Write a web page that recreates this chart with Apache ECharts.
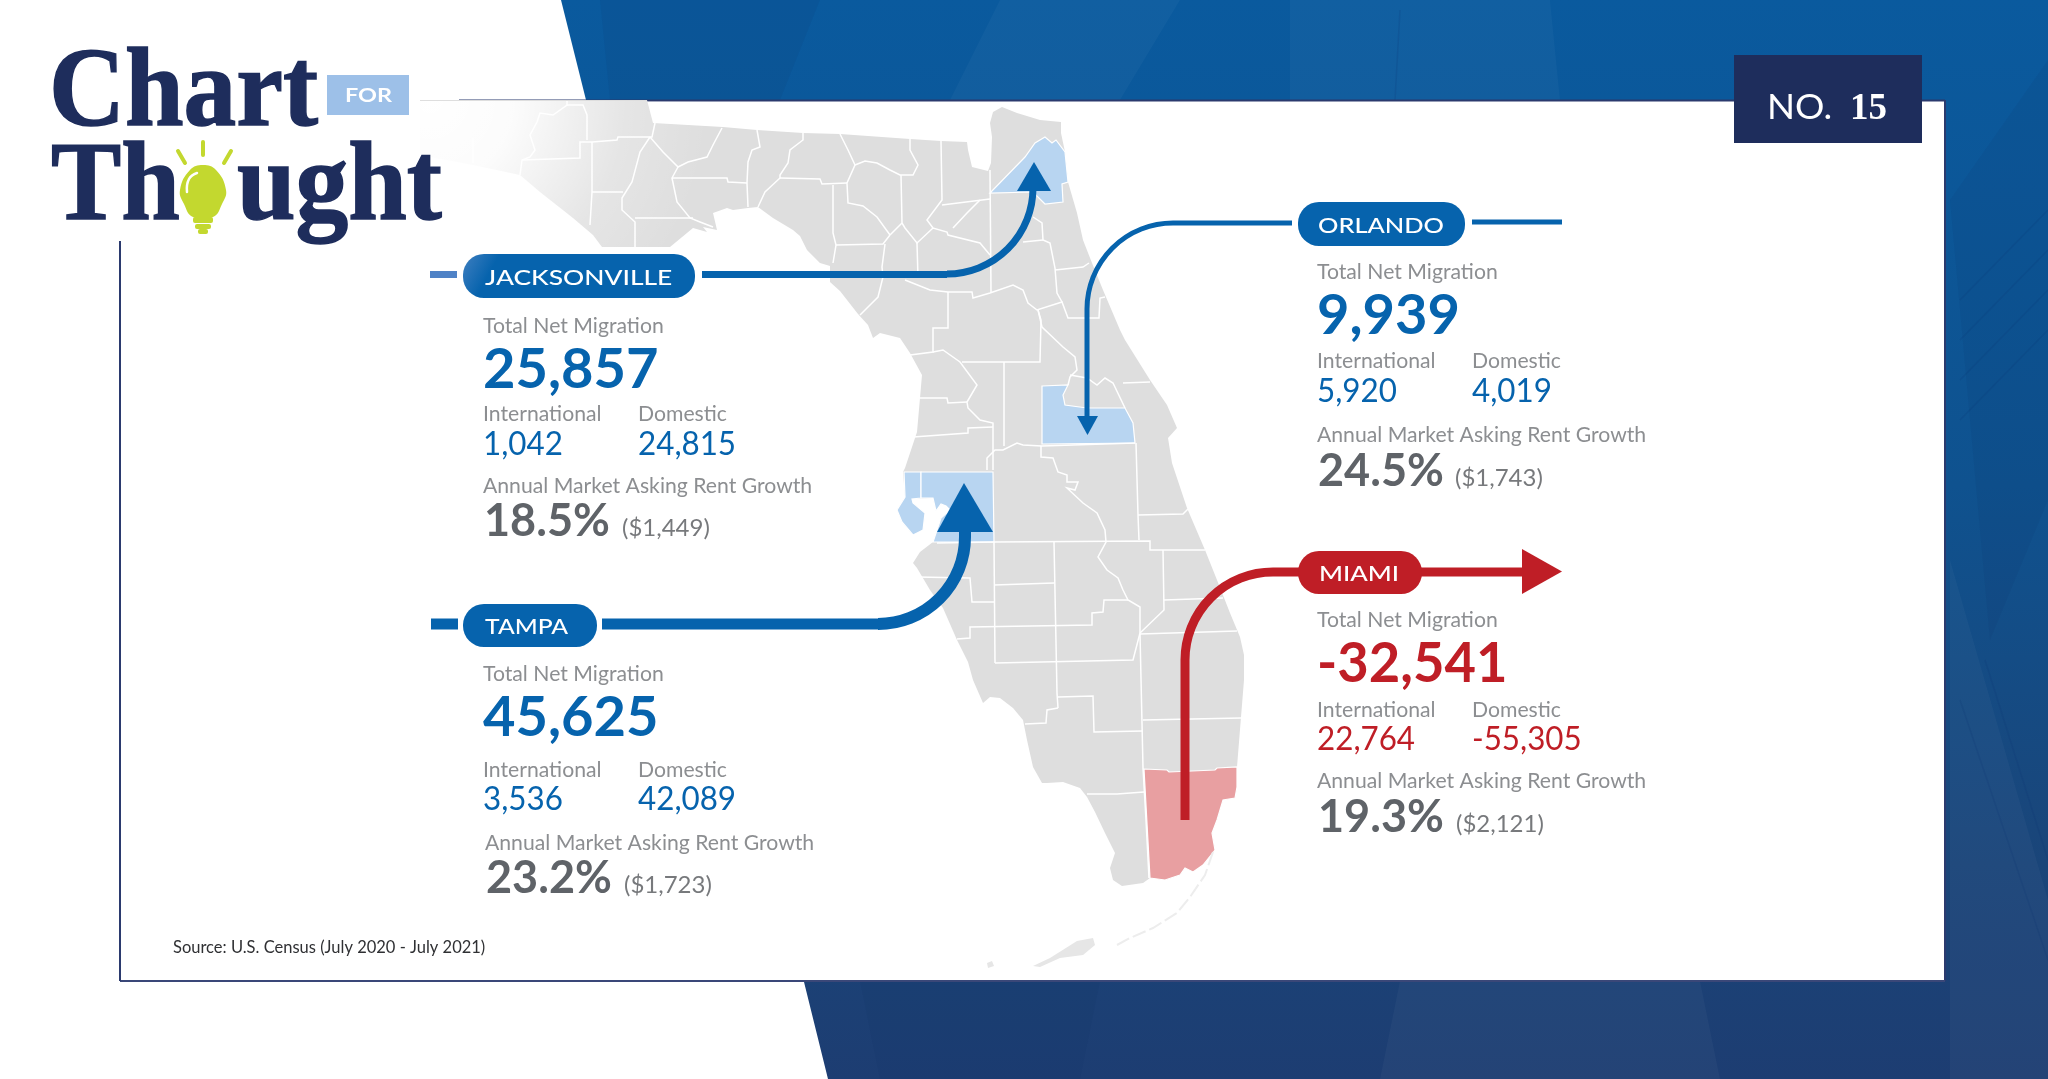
<!DOCTYPE html>
<html><head><meta charset="utf-8"><title>Chart for Thought No. 15</title>
<style>html,body{margin:0;padding:0;background:#fff}#c{width:2048px;height:1079px}</style>
<script src="https://cdn.jsdelivr.net/npm/echarts@6/dist/echarts.min.js"></script>
</head><body><div id="c"></div>
<script>
// ---- data ----
const CITIES = ['JACKSONVILLE', 'ORLANDO', 'TAMPA', 'MIAMI'];
const TOTAL_NET = [25857, 9939, 45625, -32541];
const INTERNATIONAL = [1042, 5920, 3536, 22764];
const DOMESTIC = [24815, 4019, 42089, -55305];
const RENT_GROWTH = [18.5, 24.5, 23.2, 19.3];
const ASKING_RENT = [1449, 1743, 1723, 2121];
const SOURCE = 'Source: U.S. Census (July 2020 - July 2021)';
const ISSUE = 'NO.';
const ISSUE_NO = '15';

// ---- base map geometry, in map units ----
const STATE = [[420,100],[647,100],[653,123],[723,127],[757,130],[803,133],[840,134],[910,139],[941,141],[967,142],[968,150],[972,167],[988,171],[991,163],[992,137],[990,123],[993,112],[1002,107],[1017,113],[1040,120],[1061,122],[1061,133],[1065,152],[1068,182],[1077,213],[1083,240],[1092,263],[1103,290],[1120,330],[1125,340],[1150,380],[1167,405],[1177,428],[1168,438],[1172,463],[1187,508],[1205,550],[1217,580],[1230,613],[1240,637],[1244,655],[1244,680],[1241,717],[1237,767],[1237,787],[1235,798],[1223,800],[1217,820],[1212,833],[1215,850],[1203,865],[1193,872],[1185,868],[1180,875],[1165,880],[1150,878],[1143,883],[1122,886],[1113,880],[1110,868],[1115,853],[1105,833],[1095,812],[1087,797],[1080,788],[1063,782],[1047,783],[1042,783],[1033,767],[1027,740],[1023,720],[1013,708],[1000,698],[990,697],[983,703],[973,680],[968,662],[957,640],[943,608],[930,590],[917,568],[913,563],[920,552],[933,542],[941,518],[950,510],[946,506],[941,504],[936,511],[933,498],[912,499],[913,503],[925,513],[923,530],[913,535],[902,522],[897,510],[905,497],[903,472],[905,468],[912,447],[917,432],[920,398],[922,375],[910,353],[900,338],[880,333],[873,338],[868,325],[858,314],[840,291],[830,282],[830,266],[820,263],[807,250],[800,236],[793,230],[773,218],[758,207],[748,208],[733,210],[727,208],[713,213],[717,230],[703,227],[707,232],[693,228],[670,247],[602,247],[593,235],[573,218],[540,192],[520,175],[473,165],[420,155]];
const CHARLOTTE_HARBOR = [[982,645],[990,637],[995,640],[993,660],[995,672],[990,678],[984,668],[982,655]];
const KEY_WEST = [[1033,966],[1050,958],[1077,941],[1093,938],[1095,945],[1083,955],[1060,958],[1040,967]];
const DRY_KEY = [[987,963],[992,961],[994,966],[988,968]];
const DUVAL = [[990,193],[1025,157],[1035,143],[1045,137],[1052,143],[1056,140],[1065,152],[1068,182],[1068,183],[1062,184],[1063,202],[1045,204],[1033,192]];
const ORANGE = [[1042,386],[1068,385],[1063,395],[1065,405],[1087,408],[1125,408],[1133,423],[1135,443],[1042,444]];
const PINELLAS = [[904,472],[921,472],[921,498],[912,499],[913,503],[925,513],[923,530],[913,535],[902,522],[897,510],[905,497]];
const HILLSBOROUGH = [[921,472],[993,472],[994,542],[933,542],[941,518],[950,510],[946,506],[941,504],[936,511],[933,498],[921,498]];
const MIAMI_DADE = [[1144,769],[1167,770],[1169,772],[1215,770],[1217,768],[1237,767],[1237,787],[1235,798],[1223,800],[1217,820],[1212,833],[1215,850],[1203,865],[1193,872],[1185,868],[1180,875],[1165,880],[1150,878]];
const KEYS_ARC = [[1213,852],[1205,875],[1190,897],[1177,913],[1153,928],[1130,938],[1117,945]];
const COUNTY_LINES = [
[[473,138],[473,163]],
[[567,101],[567,105],[553,115],[540,113],[537,122],[530,135],[535,150],[530,157],[522,160],[520,175]],
[[522,160],[580,158],[580,142],[592,142],[617,140],[618,137],[652,137],[655,123]],
[[567,105],[583,105],[587,115],[587,140]],
[[592,142],[592,192],[590,225]],
[[592,192],[623,192]],
[[650,137],[640,152],[632,182],[622,198],[622,210],[635,222],[635,247]],
[[635,218],[693,218]],
[[650,137],[663,152],[673,162],[678,167],[672,178],[677,202],[690,218],[700,222],[713,227]],
[[722,128],[713,145],[707,157],[688,162],[678,167]],
[[672,178],[727,178],[728,182],[747,183]],
[[757,130],[760,147],[752,150],[748,162],[747,183],[748,207]],
[[803,133],[803,140],[790,150],[788,163],[780,175],[780,178],[765,192],[758,207]],
[[780,178],[820,179],[822,184],[847,183]],
[[833,185],[833,233],[836,245],[833,263]],
[[840,134],[848,150],[855,165],[847,183],[848,203],[863,206],[877,217],[890,235]],
[[855,165],[865,161],[877,163],[890,170],[900,175],[913,175],[918,165],[910,150],[910,139]],
[[901,175],[902,223],[890,235]],
[[836,245],[883,244],[890,235]],
[[885,244],[882,267],[883,277],[878,297],[860,315]],
[[902,223],[905,228],[917,243],[933,228],[947,232],[948,235],[980,243],[990,255]],
[[917,243],[918,278]],
[[905,280],[930,290],[948,292],[972,292],[973,298],[990,293],[1013,285],[1023,290],[1028,303],[1037,310],[1062,302],[1068,318],[1099,318],[1100,298],[1105,297]],
[[941,141],[942,200],[927,220],[933,228]],
[[942,205],[990,199]],
[[980,200],[967,213],[953,228]],
[[990,170],[991,293]],
[[1033,217],[1042,223],[1043,240],[1050,243],[1055,268],[1057,293],[1062,302]],
[[1023,242],[1043,240]],
[[1055,270],[1083,267],[1089,263]],
[[948,292],[948,328],[933,328],[933,352],[910,355]],
[[933,352],[943,350],[960,362],[977,385],[967,402],[968,408],[980,420],[993,423],[993,470]],
[[962,362],[1040,362],[1041,320],[1038,310]],
[[1038,310],[1042,327],[1063,347],[1075,357],[1077,370],[1070,377],[1068,385]],
[[1070,375],[1087,378],[1097,385],[1105,378],[1113,383],[1125,408]],
[[1123,383],[1150,382]],
[[1004,362],[1004,446]],
[[920,398],[947,398],[948,403],[967,402]],
[[913,437],[968,433],[968,428],[993,427]],
[[987,470],[987,458],[995,450],[1003,450],[1017,443],[1023,445],[1042,446],[1135,443]],
[[1041,446],[1041,457],[1053,458],[1058,472],[1067,475],[1067,482],[1078,482],[1075,490],[1067,488],[1083,503],[1097,513],[1105,530],[1106,542],[1098,557],[1107,570],[1118,578],[1123,590],[1128,600],[1140,607],[1140,633]],
[[1136,443],[1138,515],[1139,540]],
[[1138,515],[1183,514],[1188,509]],
[[937,543],[994,542],[1150,541],[1150,550],[1205,550]],
[[994,542],[995,663]],
[[1054,542],[1057,693],[1058,708]],
[[994,585],[1054,583]],
[[917,577],[970,578],[972,602],[994,602]],
[[957,639],[970,638],[970,627],[1092,625],[1092,613],[1103,612],[1104,600],[1128,600]],
[[995,663],[1133,660],[1140,633]],
[[1163,550],[1164,610],[1140,633]],
[[1164,600],[1223,598]],
[[1140,634],[1237,631]],
[[1140,634],[1143,768],[1146,820],[1149,878]],
[[1143,720],[1241,718]],
[[1058,697],[1093,696],[1094,732],[1143,731]],
[[1058,708],[1047,710],[1046,723],[1025,724]],
[[1087,794],[1117,794],[1144,792]]
];
const feature = (name, rings) => ({type:'Feature', properties:{name}, geometry:{type:'Polygon', coordinates:rings}});
const MAP_AREAS = [
  feature('Florida', [STATE, CHARLOTTE_HARBOR]),
  feature('Key West', [KEY_WEST]),
  feature('Dry Key', [DRY_KEY]),
  feature('Duval', [DUVAL]),
  feature('Orange', [ORANGE]),
  feature('Pinellas', [PINELLAS]),
  feature('Hillsborough', [HILLSBOROUGH]),
  feature('Miami-Dade', [MIAMI_DADE])
];
const COUNTY_OF_CITY = {JACKSONVILLE:['Duval'], ORLANDO:['Orange'], TAMPA:['Pinellas','Hillsborough'], MIAMI:['Miami-Dade']};

// ---- palette ----
const BLUE='#0663ad', RED='#bf1e26', NAVY='#1e2d5c', LABEL='#8c8e91', DARK='#5f6368', PAREN='#77797c';
const LATO='Lato, "Open Sans", sans-serif', SERIF='"Liberation Serif", serif';

// ---- layout of the four blocks ----
const BLOCK = [
  {x:483,dom:638,paren:622,lab:333,big:388,sub:421,val:455,rl:493,rb:536,pill:[463,254,232,44],tx:485,tsx:1.2},
  {x:1317,dom:1472,paren:1455,lab:279,big:334,sub:368,val:402,rl:442,rb:486,pill:[1298,202,167,44],tx:1318,tsx:1.155},
  {x:483,dom:638,paren:624,lab:681,big:736,sub:777,val:810,rl:850,rb:893,pill:[463,604,134,43],tx:485,tsx:1.12,rx:485},
  {x:1317,dom:1472,paren:1456,lab:627,big:682,sub:717,val:750,rl:788,rb:832,pill:[1298,551,124,43],tx:1319,tsx:1.17}
];

function txt(s,x,base,size,weight,fill,family,sx,z,extra){
  const k = family===SERIF ? 0.27 : 0.32;
  return {type:'text',x:x,y:base-size*k,scaleX:sx||1,z:z||8,silent:true,
    style:Object.assign({text:s,x:0,y:0,font:(weight?weight+' ':'')+size+'px '+family,fill:fill,textAlign:'left',textVerticalAlign:'middle'},extra||{})};
}
const num = v => v.toLocaleString('en-US');
const stroke = (c,w,extra) => Object.assign({fill:null,stroke:c,lineWidth:w},extra||{});
function ln(x1,y1,x2,y2,c,w,z){return {type:'line',z:z||6,silent:true,shape:{x1,y1,x2,y2},style:stroke(c,w)};}
function arc(cx,cy,r,a,b,c,w){return {type:'arc',z:6,silent:true,shape:{cx,cy,r,startAngle:a,endAngle:b,clockwise:true},style:stroke(c,w)};}
function tri(pts,c){return {type:'polygon',z:6,silent:true,shape:{points:pts},style:{fill:c}};}
const P=Math.PI;

const g=[];
// background
g.push({type:'polygon',z:-30,silent:true,shape:{points:[[561,0],[2048,0],[2048,1079],[828,1079],[586,100]]},
  style:{fill:{type:'linear',x:0,y:0,x2:0,y2:1,colorStops:[{offset:0,color:'#0a5a9e'},{offset:.45,color:'#0f528f'},{offset:.8,color:'#1a4579'},{offset:1,color:'#1d3d72'}]}}});
[[[1290,0],[1550,0],[1560,100],[1290,100]],[[600,0],[820,0],[780,100],[610,100]],[[1000,0],[1180,0],[1120,100],[950,100]],
 [[1950,200],[2048,60],[2048,500],[1990,640]],[[1950,560],[2048,900],[2048,1079],[1950,1079]],[[860,981],[1100,981],[1080,1079],[880,1079]],[[1400,981],[1700,981],[1720,1079],[1380,1079]]]
 .forEach((p,i)=>g.push({type:'polygon',z:-29,silent:true,shape:{points:p},style:{fill:i%2?'rgba(12,40,90,0.08)':'rgba(255,255,255,0.03)'}}));
for(const l of [[1395,100,1400,10],[1960,300,2048,210],[1960,340,2048,250],[1960,380,2048,290],[1960,420,2048,330],[1960,700,2048,960],[1985,660,2048,860]])
  g.push({type:'line',z:-28,silent:true,shape:{x1:l[0],y1:l[1],x2:l[2],y2:l[3]},style:stroke('rgba(10,50,110,0.16)',1.5)});
// card
g.push({type:'rect',z:-20,silent:true,shape:{x:120,y:100,width:1825,height:881},style:{fill:'#fff'}});
g.push({type:'rect',z:-20,silent:true,shape:{x:0,y:100,width:120,height:979},style:{fill:'#fff'}});
g.push(ln(459,100.5,1945,100.5,'#2b3a6e',2,-19),ln(1945,100,1945,981,'#2b3a6e',2,-19),ln(120,981,1945,981,'#3a4778',2,-19),ln(120,241,120,981,'#2b3a6e',2,-19));
// map fade
g.push({type:'rect',z:5,silent:true,shape:{x:410,y:101,width:320,height:150},
  style:{fill:{type:'radial',x:430,y:100,r:280,global:true,colorStops:[{offset:0,color:'rgba(255,255,255,1)'},{offset:.3,color:'rgba(255,255,255,.9)'},{offset:.45,color:'rgba(255,255,255,.65)'},{offset:.7,color:'rgba(255,255,255,.22)'},{offset:1,color:'rgba(255,255,255,0)'}]}}});
// arrows
g.push(ln(430,274.5,457,274.5,'#4f82c6',7),ln(702,274.5,947,274.5,BLUE,7),arc(947,188,86,0,P/2,BLUE,7),ln(1033,188,1033.5,186,BLUE,7),tri([[1034,162],[1017,191],[1051,191]],BLUE));
g.push(ln(1173,223,1292,223,BLUE,5),arc(1173,309,86,P,1.5*P,BLUE,5),ln(1087,309,1087,417,BLUE,5),ln(1472,222,1562,222,BLUE,5),tri([[1077,416],[1098,416],[1087.5,435]],BLUE));
g.push(ln(431,624,458,624,BLUE,11),ln(602,624,878,624,BLUE,11),arc(878,537,87,0,P/2,BLUE,12),ln(965,537,965,530,BLUE,12),tri([[964,483],[937,532],[993,532]],BLUE));
g.push(ln(1185,820,1185,660,RED,9),arc(1273,660,88,P,1.5*P,RED,9),ln(1273,572,1310,572,RED,9),ln(1410,572,1522,572,RED,9),tri([[1522,549],[1522,594],[1562,571.5]],RED));
// city blocks
CITIES.forEach((name,i)=>{
  const b=BLOCK[i], col=TOTAL_NET[i]<0?RED:BLUE, p=b.pill;
  g.push({type:'rect',z:7,silent:true,shape:{x:p[0],y:p[1],width:p[2],height:p[3],r:21},style:{fill:i===0?{type:'linear',x:0,y:0,x2:.35,y2:1,colorStops:[{offset:0,color:'#3f7fc0'},{offset:.35,color:BLUE},{offset:1,color:BLUE}]}:col}});
  g.push(txt(name,b.tx,p[1]+p[3]/2+8.5,22,'500',"#fff",LATO,b.tsx));
  g.push(txt('Total Net Migration',b.x,b.lab,21.2,'',LABEL,LATO));
  g.push(txt(num(TOTAL_NET[i]),b.x,b.big,56,'bold',col,LATO,TOTAL_NET[i]<0?0.97:1));
  g.push(txt('International',b.x,b.sub,21.2,'',LABEL,LATO));
  g.push(txt('Domestic',b.dom,b.sub,21.2,'',LABEL,LATO));
  g.push(txt(num(INTERNATIONAL[i]),b.x,b.val,32,'',col,LATO,0.98));
  g.push(txt(num(DOMESTIC[i]),b.dom,b.val,32,'',col,LATO,0.98));
  g.push(txt('Annual Market Asking Rent Growth',b.rx||b.x,b.rl,21.2,'',LABEL,LATO));
  g.push(txt(RENT_GROWTH[i].toFixed(1)+'%',(b.rx||b.x)+1,b.rb,45,'bold',DARK,LATO));
  g.push(txt('($'+num(ASKING_RENT[i])+')',b.paren,b.rb,24,'',PAREN,LATO));
});
// logo
const heavy={stroke:NAVY,lineWidth:1.5};
g.push(txt('Chart',49,126,112,'bold',NAVY,SERIF,.94,9,heavy),txt('Th',51,220,112,'bold',NAVY,SERIF,.94,9,heavy),txt('ught',237,220,112,'bold',NAVY,SERIF,.94,9,heavy));
g.push({type:'rect',z:9,silent:true,shape:{x:327,y:75,width:82,height:40},style:{fill:'#9dc0e8'}});
g.push(txt('FOR',345,102,18,'bold','#fff',LATO,1.3,10));
g.push({type:'polygon',z:9,silent:true,shape:{points:[[203,165],[216,170],[226,190],[222,204],[213,217],[193,217],[184,204],[180,190],[190,170]],smooth:.45},style:{fill:'#c3d82f'}});
g.push({type:'rect',z:9,silent:true,shape:{x:193,y:217,width:20,height:6,r:2},style:{fill:'#c3d82f'}},
       {type:'rect',z:9,silent:true,shape:{x:195,y:224,width:16,height:5,r:2},style:{fill:'#c3d82f'}},
       {type:'rect',z:9,silent:true,shape:{x:198,y:229,width:10,height:5,r:2},style:{fill:'#c3d82f'}});
[[203,142,203,155],[178,151,185,163],[231,151,224,163]].forEach(l=>g.push({type:'line',z:9,silent:true,shape:{x1:l[0],y1:l[1],x2:l[2],y2:l[3]},style:stroke('#c3d82f',4,{lineCap:'round'})}));
g.push({type:'polyline',z:10,silent:true,shape:{points:[[187,192],[189,179],[197,173]],smooth:.5},style:stroke('#fff',2.5,{lineCap:'round'})});
// issue box and source
g.push({type:'rect',z:9,silent:true,shape:{x:1734,y:55,width:188,height:88},style:{fill:NAVY}});
g.push(txt(ISSUE,1767,119,35,'','#fff',LATO,1.05,10),txt(ISSUE_NO,1850,119,37,'bold','#fff',SERIF,1,10));
g.push(txt(SOURCE,173,953,16.5,'','#2f3033',LATO));

// ---- chart ----
const all=STATE.concat(KEY_WEST,DRY_KEY);
const xs=all.map(p=>p[0]), ys=all.map(p=>p[1]);
const minX=Math.min(...xs),maxX=Math.max(...xs),minY=Math.min(...ys),maxY=Math.max(...ys);
echarts.registerMap('florida',{type:'FeatureCollection',features:MAP_AREAS});
const regions=[];
CITIES.forEach((c,i)=>COUNTY_OF_CITY[c].forEach(n=>regions.push({name:n,silent:true,itemStyle:{areaColor:TOTAL_NET[i]<0?'#e89fa1':'#b8d5f1',borderColor:'#fff',borderWidth:1.2}})));
regions.push({name:'Key West',silent:true,itemStyle:{areaColor:'#e6e6e6',borderWidth:0}},{name:'Dry Key',silent:true,itemStyle:{areaColor:'#e6e6e6',borderWidth:0}});
const chart=echarts.init(document.getElementById('c'),null,{renderer:'canvas',width:2048,height:1079});
chart.setOption({
  animation:false,backgroundColor:'#fff',
  geo:{map:'florida',silent:true,roam:false,left:minX,top:minY,width:maxX-minX,height:maxY-minY,
    projection:{project:p=>p,unproject:p=>p},
    label:{show:false},itemStyle:{areaColor:'#dedede',borderColor:'#fff',borderWidth:0},regions:regions},
  series:[
    {type:'lines',coordinateSystem:'geo',polyline:true,silent:true,z:2,lineStyle:{color:'#fff',width:1.5,opacity:1},
     data:COUNTY_LINES.map(c=>({coords:c}))},
    {type:'lines',coordinateSystem:'geo',polyline:true,silent:true,z:2,lineStyle:{color:'#ededed',width:2,opacity:1,type:[14,4]},
     data:[{coords:KEYS_ARC}]}
  ],
  graphic:{elements:g}
});
</script></body></html>
